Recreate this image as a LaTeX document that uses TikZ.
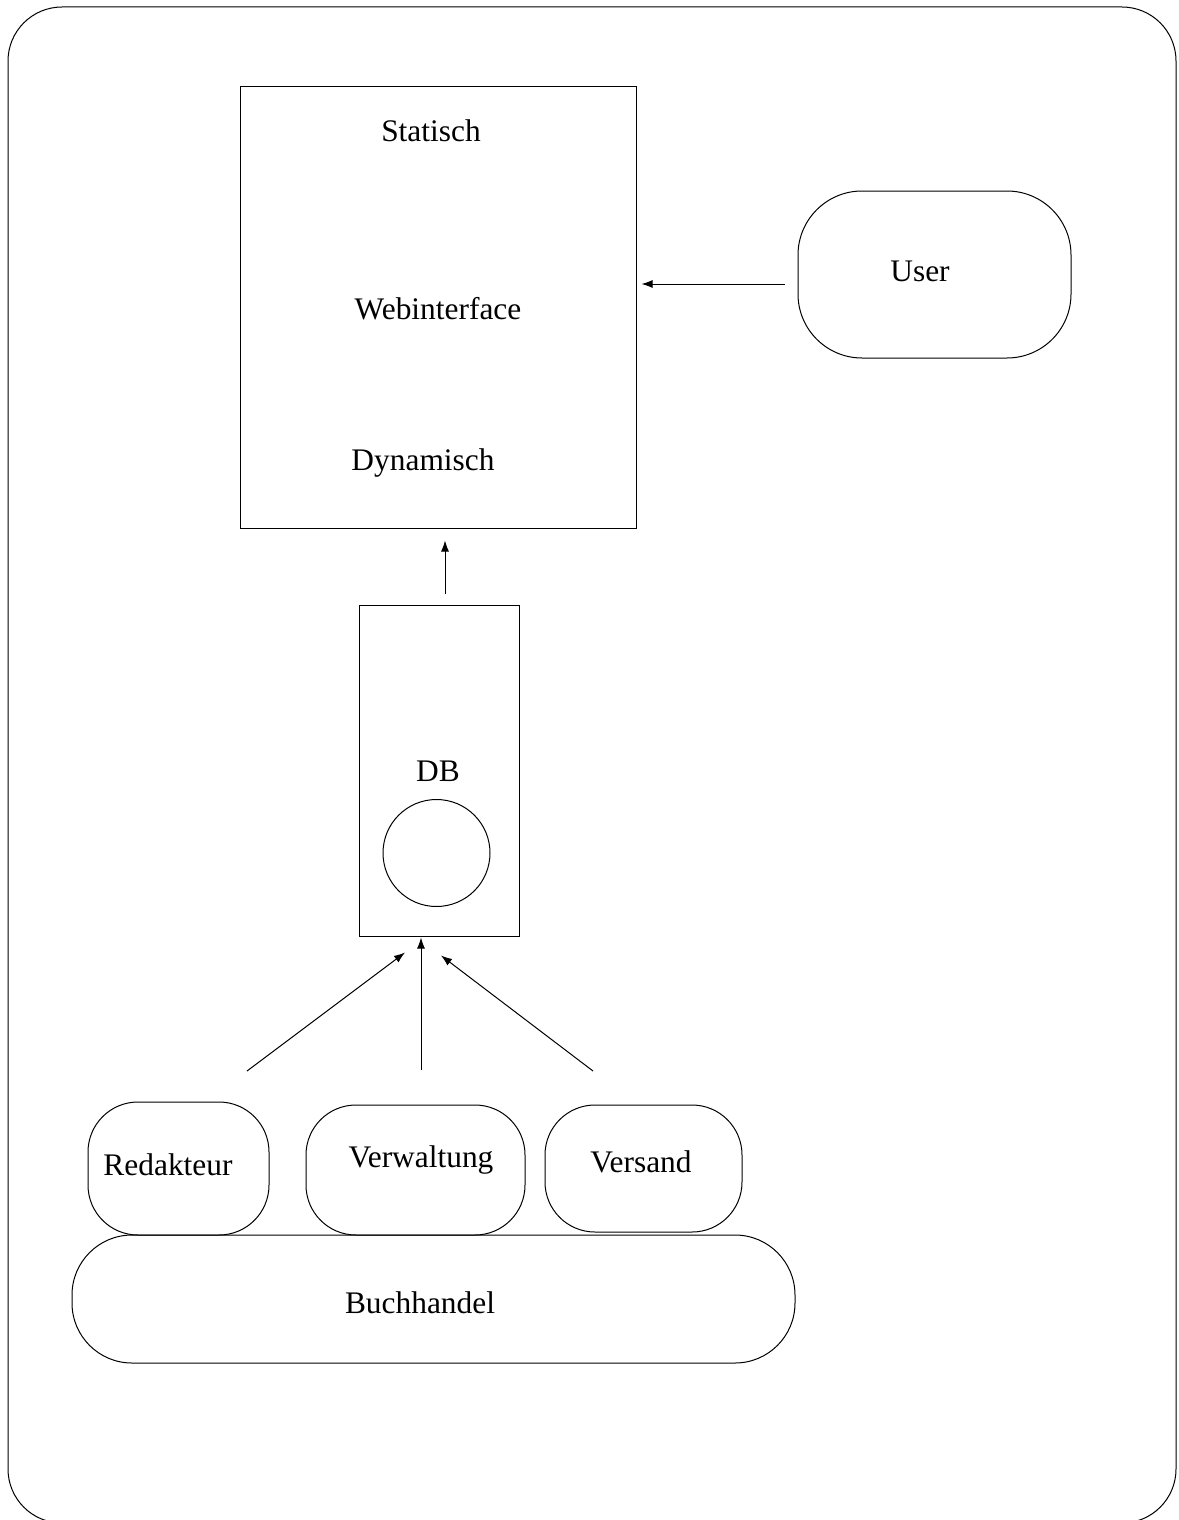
\documentclass[tikz,border=0pt]{standalone}
\usepackage{fontspec}
\setmainfont{Liberation Serif}
\usetikzlibrary{arrows.meta}

\begin{document}
\begin{tikzpicture}[x=0.5pt, y=-0.5pt, line width=0.5pt,
  box/.style={draw, inner sep=0pt, minimum width=#1},
  softbox/.style={draw, rounded corners=25pt, inner sep=0pt},
  txt/.style={font=\fontsize{15.7}{18}\selectfont},
  flow/.style={-{Latex[length=5.5pt, width=4pt]}}]
\useasboundingbox (0,0) rectangle (1178,1520);
\begin{scope}
\clip (0,0) rectangle (1178,1520);
\draw[rounded corners=27pt] (8,7) rectangle (1176,1523);
\end{scope}
% Webinterface
\node[box=198pt, minimum height=220.5pt] (web) at (438,307.5) {};
\node[txt] (statisch) at (431,131) {Statisch};
\node[txt] (webtxt) at (438,309) {Webinterface};
\node[txt] (dynamisch) at (423,463) {Dynamisch};
% User
\node[softbox, rounded corners=32pt, minimum width=136.5pt, minimum height=83.5pt] (user) at (934.5,274.5) {};
\node[txt] (usertxt) at (920,271) {User};
\coordinate (user-out) at (785,284);
\draw[flow, shorten >=2.5pt] (user-out) -- (user-out -| web.east);
% DB
\node[box=80pt, minimum height=165.5pt] (db) at (439,770.5) {};
\node[txt] (dbtxt) at (438,771) {DB};
\node[draw, circle, inner sep=0pt, minimum size=53.5pt] (store) at (436.5,853) {};
\coordinate (db-out) at (445,594);
\draw[flow, shorten >=6pt] (db-out) -- (db-out |- web.south);
% Buchhandel
\node[softbox, rounded corners=30pt, minimum width=361.5pt, minimum height=64pt] (buch) at (433.5,1299) {};
\node[txt] (buchtxt) at (420,1303) {Buchhandel};
\node[softbox, minimum width=90.5pt, minimum height=66.5pt] (red) at (178.5,1168.5) {};
\node[txt] (redtxt) at (168,1165) {Redakteur};
\node[softbox, minimum width=109.5pt, minimum height=65pt] (verw) at (415.5,1170) {};
\node[txt] (verwtxt) at (421,1160) {Verwaltung};
\node[softbox, minimum width=98.5pt, minimum height=63.5pt] (vers) at (643.5,1168.5) {};
\node[txt] (verstxt) at (641,1162) {Versand};
% Zugriffe auf DB
\coordinate (red-out) at (247,1071);
\coordinate (verw-out) at (421,1070);
\coordinate (vers-out) at (593,1071);
\coordinate (db-in-l) at ([shift={(-34,16)}]db.south);
\coordinate (db-in-r) at ([shift={(2,19)}]db.south);
\draw[flow] (red-out) -- (db-in-l);
\draw[flow, shorten >=0.5pt] (verw-out) -- (verw-out |- db.south);
\draw[flow] (vers-out) -- (db-in-r);
\end{tikzpicture}
\end{document}
